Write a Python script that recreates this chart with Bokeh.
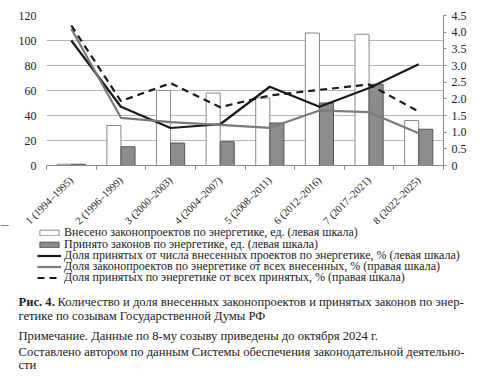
import numpy as np
from math import pi
from bokeh.plotting import figure
from bokeh.layouts import column
from bokeh.models import (ColumnDataSource, Range1d, LinearAxis, FixedTicker,
                          Legend, LegendItem, Label, NumeralTickFormatter)
from bokeh.embed import file_html
from bokeh.resources import INLINE

categories = ["1 (1994–1995)", "2 (1996–1999)", "3 (2000–2003)", "4 (2004–2007)",
              "5 (2008–2011)", "6 (2012–2016)", "7 (2017–2021)", "8 (2022–2025)"]
introduced = [1, 32, 60, 58, 54, 106, 105, 36]
adopted = [1, 15, 18, 19, 34, 50, 65, 29]
share_adopted_of_introduced = [100, 47, 30, 33, 63, 47, 62, 81]
share_introduced_of_all = [4.1, 1.43, 1.3, 1.22, 1.13, 1.65, 1.6, 0.97]
share_adopted_of_all = [4.2, 1.93, 2.47, 1.75, 2.1, 2.27, 2.43, 1.62]
left_ticks = [0, 20, 40, 60, 80, 100, 120]
right_ticks = [0, 0.5, 1.0, 1.5, 2.0, 2.5, 3.0, 3.5, 4.0, 4.5]

legend_labels = [
    "Внесено законопроектов по энергетике, ед. (левая шкала)",
    "Принято законов по энергетике, ед. (левая шкала)",
    "Доля принятых от числа внесенных проектов по энергетике, % (левая шкала)",
    "Доля законопроектов по энергетике от всех внесенных, % (правая шкала)",
    "Доля принятых по энергетике от всех принятых, % (правая шкала)",
]
caption_bold = "Рис. 4."
caption_lines = [
    "Количество и доля внесенных законопроектов и принятых законов по энер-",
    "гетике по созывам Государственной Думы РФ",
    "Примечание. Данные по 8-му созыву приведены до октября 2024 г.",
    "Составлено автором по данным Системы обеспечения законодательной деятельно-",
    "сти",
]

FONT = "Liberation Serif"
W = 499
Q_TOP, Q_H = 225, 151
n = len(categories)
xc = np.arange(n) + 0.5

INTRO = dict(fill_color="white", line_color="#8a8a8a", line_width=1)
ADOPT = dict(fill_color="#8c8c8c", line_color="#555555", line_width=1)
S1 = dict(line_color="#1a1a1a", line_width=2.2)
S2 = dict(line_color="#7a7a7a", line_width=2.2)
S3 = dict(line_color="#1a1a1a", line_width=2.2, line_dash="7 5")

src = ColumnDataSource(dict(
    x=xc, xw=xc - 0.142, xg=xc + 0.142,
    introduced=introduced, adopted=adopted,
    s1=share_adopted_of_introduced, s2=share_introduced_of_all, s3=share_adopted_of_all,
))


def make_chart(height, standoff):
    p = figure(width=W, height=height, output_backend="svg", toolbar_location=None,
               x_range=Range1d(0, n), y_range=Range1d(0, 120),
               min_border_left=46, min_border_right=56, min_border_top=15,
               min_border_bottom=height - 165)
    p.frame_align = False
    p.extra_y_ranges = {"right": Range1d(0, 4.5)}
    p.outline_line_color = None

    p.vbar(x="xw", top="introduced", width=0.284, source=src, **INTRO)
    p.vbar(x="xg", top="adopted", width=0.284, source=src, **ADOPT)
    p.line(x="x", y="s1", source=src, **S1)
    p.line(x="x", y="s2", source=src, y_range_name="right", **S2)
    p.line(x="x", y="s3", source=src, y_range_name="right", **S3)

    p.xgrid.grid_line_color = None
    p.ygrid.grid_line_color = "#b5b5b5"
    p.ygrid.ticker = FixedTicker(ticks=left_ticks)

    ax = p.yaxis[0]
    ax.ticker = FixedTicker(ticks=left_ticks)
    ax.axis_line_color = None
    ax.major_tick_line_color = None
    ax.minor_tick_line_color = None
    ax.major_tick_out = 0
    ax.major_tick_in = 0
    ax.major_label_standoff = 10
    ax.major_label_text_font = FONT
    ax.major_label_text_font_size = "12px"
    ax.major_label_text_color = "#222222"

    rax = LinearAxis(y_range_name="right",
                     ticker=FixedTicker(ticks=right_ticks),
                     formatter=NumeralTickFormatter(format="0.0"))
    rax.major_label_overrides = {0: "0"}
    rax.axis_line_color = "#8a8a8a"
    rax.major_tick_line_color = "#8a8a8a"
    rax.major_tick_out = 3
    rax.major_tick_in = 0
    rax.minor_tick_line_color = None
    rax.major_label_standoff = 5
    rax.major_label_text_font = FONT
    rax.major_label_text_font_size = "12px"
    rax.major_label_text_color = "#222222"
    p.add_layout(rax, "right")

    bx = p.xaxis[0]
    bx.ticker = FixedTicker(ticks=list(xc), minor_ticks=list(range(n + 1)))
    bx.major_label_overrides = {float(v): c for v, c in zip(xc, categories)}
    bx.major_label_orientation = pi / 4
    bx.major_tick_line_color = None
    bx.major_tick_out = 3
    bx.minor_tick_line_color = "#8a8a8a"
    bx.minor_tick_out = 4
    bx.minor_tick_in = 0
    bx.axis_line_color = "#8a8a8a"
    bx.major_label_standoff = standoff
    bx.major_label_text_font = FONT
    bx.major_label_text_font_size = "10.5px"
    bx.major_label_text_color = "#222222"
    return p


# second panel: legend and caption (data coordinates = page pixels)
q = figure(width=W, height=Q_H, output_backend="svg", toolbar_location=None,
           x_range=Range1d(0, W), y_range=Range1d(Q_TOP + Q_H, Q_TOP),
           x_axis_location=None, y_axis_location=None, min_border=0)
q.frame_align = False
q.outline_line_color = None
q.background_fill_color = None
q.border_fill_color = None
q.xgrid.grid_line_color = None
q.ygrid.grid_line_color = None

# chart taller than the gap so its frame is not squeezed; caption panel overlaps it
H1 = 243
try:
    q.margin = (Q_TOP - H1, 0, 0, 0)
    p = make_chart(H1, 9)
except Exception:
    p = make_chart(Q_TOP, 6)

# legend proxies: same data, fall outside this panel's visible range
proxies = [
    q.vbar(x="xw", top="introduced", width=0.284, source=src, **INTRO),
    q.vbar(x="xg", top="adopted", width=0.284, source=src, **ADOPT),
    q.line(x="x", y="s1", source=src, **S1),
    q.line(x="x", y="s2", source=src, **S2),
    q.line(x="x", y="s3", source=src, **S3),
]

ROW0, PITCH, ITEM_H = 232.7, 11.3, 15
for i, (lab, r) in enumerate(zip(legend_labels, proxies)):
    centre = ROW0 + PITCH * i
    lg = Legend(items=[LegendItem(label=lab, renderers=[r])],
                location=(37, Q_TOP + Q_H - (centre + ITEM_H / 2)))
    lg.label_text_font = FONT
    lg.label_text_font_size = "12px"
    lg.label_text_color = "#222222"
    lg.label_height = 11
    lg.glyph_height = 7
    lg.glyph_width = 24
    lg.spacing = 0
    lg.label_standoff = 3
    lg.padding = 0
    lg.margin = 0
    lg.border_line_color = None
    lg.background_fill_alpha = 0
    q.add_layout(lg, "center")

cap_x = [57, 18, 18, 18, 18]
cap_y = [301, 315.7, 335, 351, 364]
q.add_layout(Label(x=18, y=cap_y[0], text=caption_bold, text_font=FONT,
                   text_font_size="12.6px", text_font_style="bold",
                   text_baseline="middle", text_color="#222222"))
for t, xx, yy in zip(caption_lines, cap_x, cap_y):
    q.add_layout(Label(x=xx, y=yy, text=t, text_font=FONT, text_font_size="12.6px",
                       text_baseline="middle", text_color="#222222"))

layout = column(p, q, spacing=0)
open("out.html", "w").write(file_html(layout, INLINE))
